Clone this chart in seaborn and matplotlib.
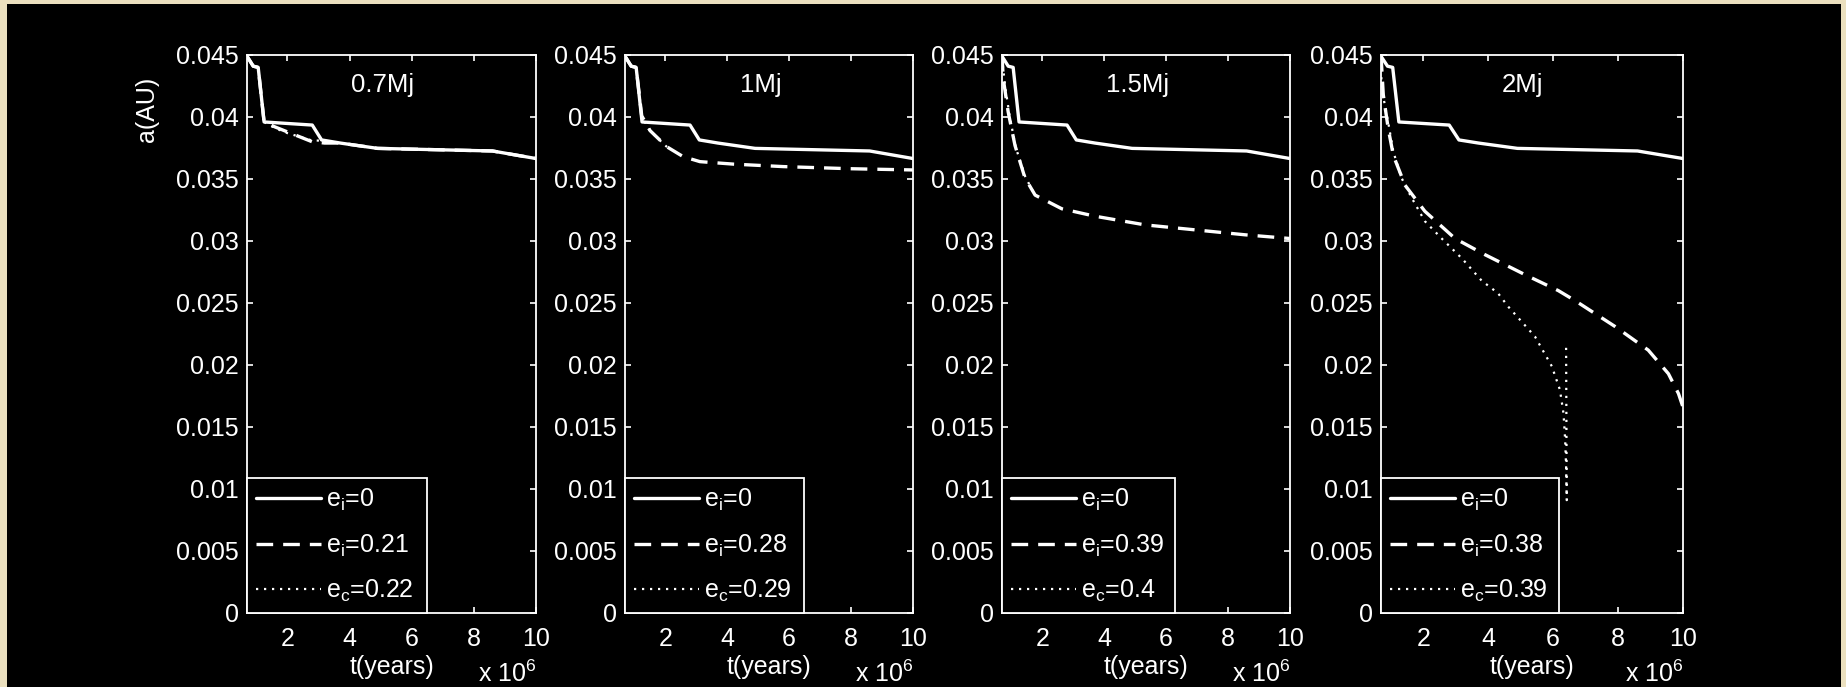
import matplotlib
matplotlib.use("Agg")
import matplotlib.pyplot as plt
from matplotlib.patches import Rectangle
import seaborn as sns
import pandas as pd

# ---------------- data (t in units of 1e6 years, a in AU) ----------------
masses = ["0.7Mj", "1Mj", "1.5Mj", "2Mj"]

# e_i = 0 curve (identical in every panel)
t_circ = [0.70, 0.90, 1.06, 1.25, 2.80, 3.10, 3.70, 4.90, 8.60, 10.0]
a_circ = [0.0449, 0.0441, 0.0440, 0.0396, 0.03935, 0.03815, 0.0379, 0.03747, 0.03726, 0.03665]

# 0.7 Mj
t_07_ei = [0.70, 0.90, 1.06, 1.25, 1.60, 2.00, 2.40, 2.80, 3.20, 3.70, 4.90, 8.60, 10.0]
a_07_ei = [0.0449, 0.0441, 0.0440, 0.0396, 0.0392, 0.0388, 0.0384, 0.0380, 0.0379, 0.0379, 0.03747, 0.03726, 0.03665]
t_07_ec = [0.70, 0.90, 1.06, 1.25, 1.60, 2.00, 2.40, 2.80, 3.10]
a_07_ec = [0.0449, 0.0441, 0.0440, 0.0396, 0.0391, 0.0387, 0.0384, 0.0381, 0.0381]

# 1 Mj
t_1_ei = [0.70, 0.90, 1.06, 1.24, 1.51, 2.05, 2.58, 3.12, 4.20, 5.81, 7.96, 10.0]
a_1_ei = [0.0449, 0.0441, 0.0440, 0.0401, 0.0389, 0.0376, 0.0368, 0.0364, 0.0362, 0.0360, 0.03583, 0.03573]
t_1_ec = [0.70, 0.90, 1.06, 1.25, 1.50, 2.00, 2.20]
a_1_ec = [0.0449, 0.0441, 0.0440, 0.0400, 0.0389, 0.0377, 0.0373]

# 1.5 Mj
t_15_ei = [0.70, 0.74, 0.90, 1.12, 1.44, 1.77, 2.63, 3.70, 5.32, 6.93, 8.55, 10.0]
a_15_ei = [0.0450, 0.0431, 0.0404, 0.0377, 0.0351, 0.0337, 0.0326, 0.0320, 0.0313, 0.0309, 0.0305, 0.0302]
t_15_ec = [0.70, 0.80, 0.95, 1.15, 1.45, 1.70]
a_15_ec = [0.0448, 0.0425, 0.0400, 0.0375, 0.0352, 0.0340]

# 2 Mj
t_2_ei = [0.70, 0.77, 0.92, 1.08, 1.44, 2.05, 2.98, 3.90, 5.20, 6.16, 6.67, 7.91, 8.93, 9.55, 9.86, 10.0]
a_2_ei = [0.0450, 0.0418, 0.0391, 0.0369, 0.0345, 0.0324, 0.0302, 0.0289, 0.0272, 0.0260, 0.0252, 0.0231, 0.0212, 0.0193, 0.0177, 0.0166]
t_2_ec = [0.70, 0.72, 0.92, 1.08, 1.33, 1.64, 2.05, 2.57, 3.19, 3.80, 4.30, 4.62, 5.44, 5.96, 6.21, 6.32, 6.37, 6.40, 6.42, 6.40]
a_2_ec = [0.0445, 0.0423, 0.0396, 0.0372, 0.0351, 0.0335, 0.0316, 0.0302, 0.0286, 0.0268, 0.0258, 0.0247, 0.0223, 0.0199, 0.0180, 0.0161, 0.0140, 0.0118, 0.0091, 0.0214]

ecc_labels = [
    ["e$_{i}$=0", "e$_{i}$=0.21", "e$_{c}$=0.22"],
    ["e$_{i}$=0", "e$_{i}$=0.28", "e$_{c}$=0.29"],
    ["e$_{i}$=0", "e$_{i}$=0.39", "e$_{c}$=0.4"],
    ["e$_{i}$=0", "e$_{i}$=0.38", "e$_{c}$=0.39"],
]
series_ei = [(t_07_ei, a_07_ei), (t_1_ei, a_1_ei), (t_15_ei, a_15_ei), (t_2_ei, a_2_ei)]
series_ec = [(t_07_ec, a_07_ec), (t_1_ec, a_1_ec), (t_15_ec, a_15_ec), (t_2_ec, a_2_ec)]

y_ticks = [0, 0.005, 0.01, 0.015, 0.02, 0.025, 0.03, 0.035, 0.04, 0.045]
y_ticklabels = ["0", "0.005", "0.01", "0.015", "0.02", "0.025", "0.03", "0.035", "0.04", "0.045"]
x_ticks = [2, 4, 6, 8, 10]
x_ticklabels = ["2", "4", "6", "8", "10"]

# ---------------- style ----------------
sns.set_theme(style="dark")
plt.rcParams["font.family"] = ["Liberation Sans", "DejaVu Sans"]
plt.rcParams["mathtext.fontset"] = "custom"
plt.rcParams["mathtext.rm"] = "Liberation Sans"
plt.rcParams["mathtext.it"] = "Liberation Sans"
plt.rcParams["mathtext.default"] = "regular"

W, H = 1846, 687
fig = plt.figure(figsize=(W / 100, H / 100), dpi=100)
fig.patch.set_facecolor("#ebe0bf")
fig.add_artist(Rectangle((7 / W, 0), (1841 - 7) / W, (H - 4) / H,
                         transform=fig.transFigure, facecolor="black",
                         edgecolor="none", zorder=-10))

ax_lefts = [247, 625, 1002, 1381]
ax_widths = [289, 288, 288, 302]
ax_top, ax_bot = 55, 613
leg_rights = [427, 804, 1175, 1559]
leg_tops = [475, 475, 475, 471]

FS = 18
for k in range(4):
    ax = fig.add_axes([ax_lefts[k] / W, (H - ax_bot) / H, ax_widths[k] / W, (ax_bot - ax_top) / H])
    ax.set_facecolor("black")
    for sp in ax.spines.values():
        sp.set_color("white")
        sp.set_linewidth(1.3)
        sp.set_visible(True)

    sns.lineplot(x=t_circ, y=a_circ, ax=ax, color="white", lw=2.4,
                 linestyle="-", sort=False, estimator=None, label=ecc_labels[k][0])
    te, ae = series_ei[k]
    sns.lineplot(x=te, y=ae, ax=ax, color="white", lw=2.4,
                 linestyle=(0, (5, 3)), sort=False, estimator=None, label=ecc_labels[k][1])
    tc, ac = series_ec[k]
    sns.lineplot(x=tc, y=ac, ax=ax, color="white", lw=1.6,
                 linestyle=(0, (1, 2.6)), sort=False, estimator=None, label=ecc_labels[k][2])

    ax.set_xlim(0.7, 10)
    ax.set_ylim(0, 0.045)
    ax.set_xticks(x_ticks)
    ax.set_xticklabels(x_ticklabels)
    ax.set_yticks(y_ticks)
    ax.set_yticklabels(y_ticklabels)
    ax.tick_params(axis="y", which="both", direction="in", length=4, width=1.2,
                   color="white", labelcolor="white", labelsize=FS, pad=6,
                   left=True, right=True)
    ax.tick_params(axis="x", which="both", direction="in", length=4, width=1.2,
                   color="white", labelcolor="white", labelsize=FS, pad=10,
                   top=True, bottom=True)
    ax.grid(False)
    ax.set_xlabel("t(years)", fontsize=FS, color="white", labelpad=3)
    ax.set_ylabel("")

    ax.text(0.47, 0.946, masses[k], transform=ax.transAxes, ha="center", va="center",
            fontsize=18.5, color="white")
    ax.text(1.0, -0.109, "x 10$^{6}$", transform=ax.transAxes, ha="right", va="center",
            fontsize=FS, color="white")

    lw_frac = (leg_rights[k] - ax_lefts[k]) / ax_widths[k]
    lh_frac = (ax_bot - leg_tops[k]) / (ax_bot - ax_top)
    handles, labels = ax.get_legend_handles_labels()
    leg = ax.legend(handles, labels, loc="lower left", bbox_to_anchor=(0, 0, lw_frac, lh_frac),
                    mode="expand", borderaxespad=0, fancybox=False, framealpha=1,
                    facecolor="black", edgecolor="white", fontsize=FS,
                    handlelength=2.6, handletextpad=0.2, labelspacing=0.78,
                    borderpad=0.35, labelcolor="white")
    leg.get_frame().set_linewidth(1.3)

fig.text(147 / W, 1 - 109 / H, "a(AU)", rotation=90, ha="center", va="center",
         fontsize=FS, color="white")

fig.savefig("out.png", dpi=100, facecolor=fig.get_facecolor())
